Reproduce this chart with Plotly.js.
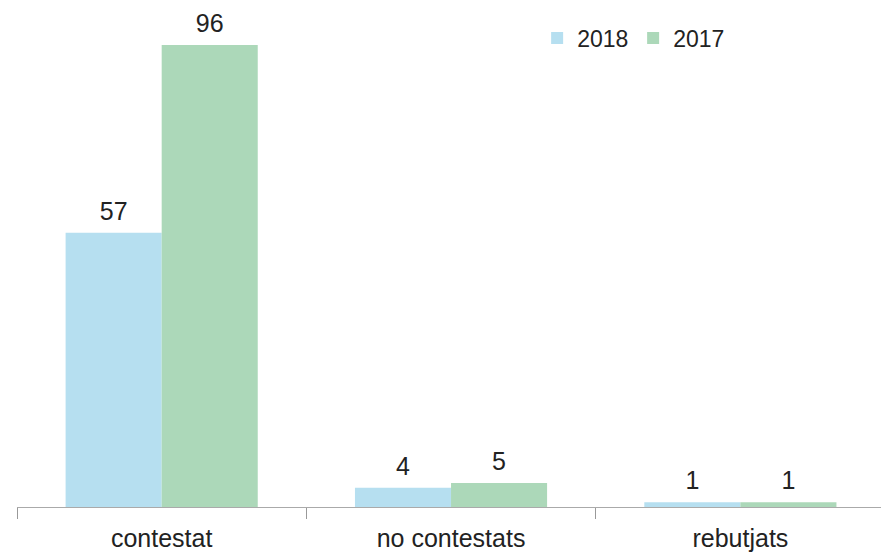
<!DOCTYPE html>
<html>
<head>
<meta charset="utf-8">
<script src="https://cdn.plot.ly/plotly-3.0.1.min.js"></script>
<style>
html,body{margin:0;padding:0;background:#fff;}
#chart{width:881px;height:554px;}
#chart .bartext{translate:0 -5px;}
</style>
</head>
<body>
<div id="chart"></div>
<script>
var categories = ["contestat", "no contestats", "rebutjats"];
var series2018 = [57, 4, 1];
var series2017 = [96, 5, 1];
var seriesNames = ["2018", "2017"];

var labelFont = {family: "Liberation Sans, Arial, sans-serif", size: 25, color: "#222"};

var traces = [
  {type: "bar", name: seriesNames[0], x: categories, y: series2018,
   text: series2018.map(String), textposition: "outside", cliponaxis: false,
   marker: {color: "#b6dff0"}, textfont: labelFont},
  {type: "bar", name: seriesNames[1], x: categories, y: series2017,
   text: series2017.map(String), textposition: "outside", cliponaxis: false,
   marker: {color: "#acd8b9"}, textfont: labelFont}
];

var layout = {
  width: 881, height: 554,
  margin: {l: 17, r: 0, t: 0, b: 47},
  paper_bgcolor: "#fff", plot_bgcolor: "#fff",
  font: {family: "Liberation Sans, Arial, sans-serif", color: "#222"},
  barmode: "group", bargap: 0.336, bargroupgap: 0,
  showlegend: true,
  legend: {orientation: "h", x: 0.602, xanchor: "left", y: 0.925, yanchor: "middle",
           font: {size: 23, color: "#222"}, entrywidth: 51, entrywidthmode: "pixels",
           bgcolor: "rgba(0,0,0,0)"},
  xaxis: {type: "category", range: [-0.5, 2.486], showline: true, linecolor: "#aaaaaa", linewidth: 1,
          ticks: "outside", tickson: "boundaries", ticklen: 11, tickcolor: "#999", tickwidth: 1,
          ticklabelstandoff: 9,
          tickfont: {size: 25, color: "#222"}, showgrid: false, zeroline: false, fixedrange: true},
  yaxis: {range: [0, 105.35], visible: false, showgrid: false, zeroline: false, fixedrange: true}
};

Plotly.newPlot("chart", traces, layout, {displayModeBar: false, staticPlot: true});
</script>
</body>
</html>
